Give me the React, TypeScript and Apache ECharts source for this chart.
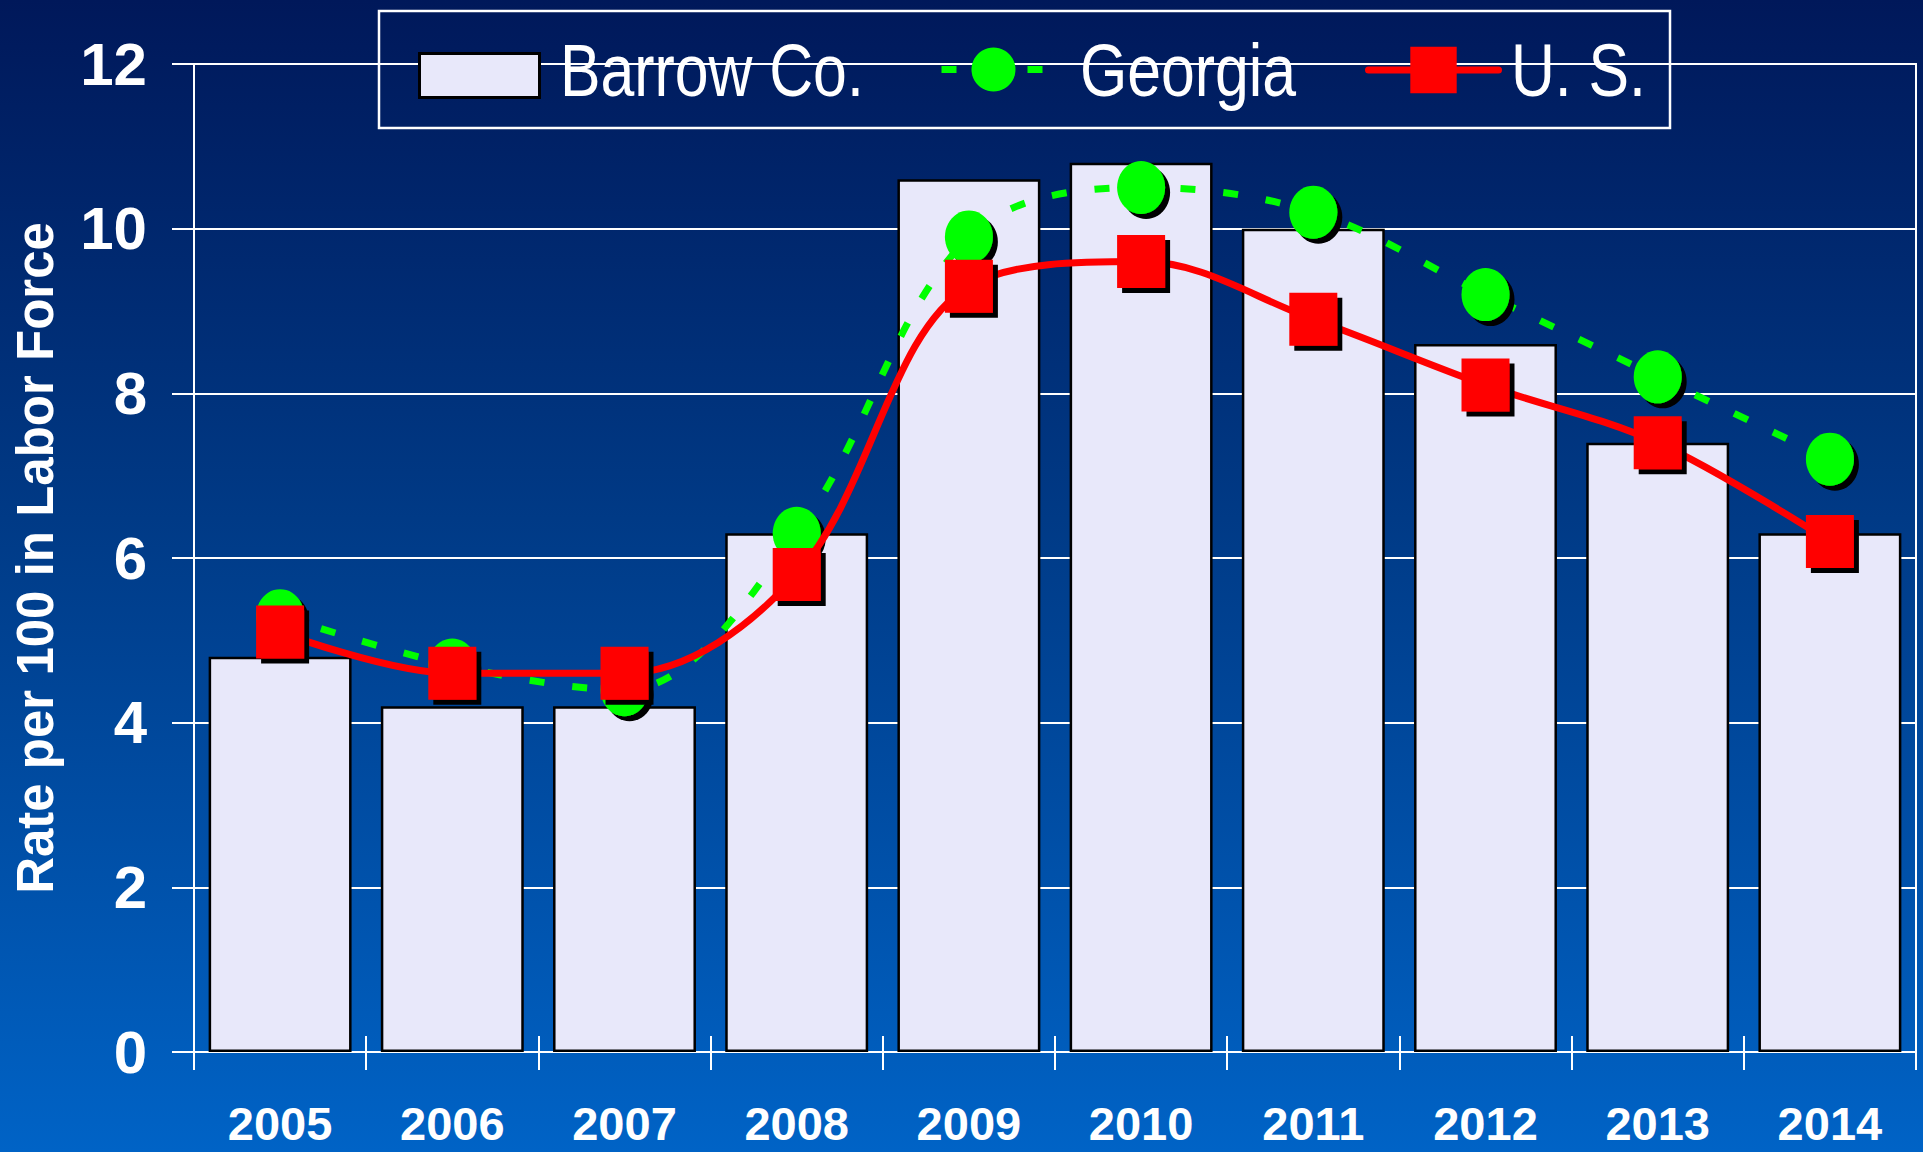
import React, { useEffect, useRef } from "react";
import * as echarts from "echarts";

const years = ["2005", "2006", "2007", "2008", "2009", "2010", "2011", "2012", "2013", "2014"];
const barrowCo = [4.8, 4.2, 4.2, 6.3, 10.6, 10.8, 10.0, 8.6, 7.4, 6.3];
const georgia = [5.3, 4.7, 4.4, 6.3, 9.9, 10.5, 10.2, 9.2, 8.2, 7.2];
const us = [5.1, 4.6, 4.6, 5.8, 9.3, 9.6, 8.9, 8.1, 7.4, 6.2];
const seriesNames = ["Barrow Co.", "Georgia", "U. S."];
const yMin = 0;
const yMax = 12;
const yStep = 2;
const yAxisTitle = "Rate per 100 in Labor Force";

const NUM_FONT = 'Arial, "Liberation Sans", sans-serif';

export default function App() {
  const ref = useRef<HTMLDivElement>(null);

  useEffect(() => {
    const chart = echarts.init(ref.current!, null, { renderer: "svg" });
    const hiddenText = { fontSize: 1, color: "transparent", padding: 0 };
    const legendLabel = (text: string, x: number) => ({
      type: "text",
      x,
      y: 70,
      scaleX: 0.81,
      z: 100,
      style: {
        text,
        fill: "#ffffff",
        fontSize: 75,
        fontFamily: NUM_FONT,
        textAlign: "left",
        textVerticalAlign: "middle",
      },
    });
    chart.setOption({
      animation: false,
      backgroundColor: "transparent",
      grid: {
        left: 194,
        top: 64,
        width: 1722,
        height: 988,
        show: true,
        borderColor: "#ffffff",
        borderWidth: 2,
        backgroundColor: "transparent",
      },
      graphic: [
        {
          type: "rect",
          shape: { x: 379, y: 11, width: 1291, height: 117 },
          style: { fill: "none", stroke: "#ffffff", lineWidth: 2.5 },
          z: 100,
        },
        legendLabel(seriesNames[0], 560),
        legendLabel(seriesNames[1], 1080),
        legendLabel(seriesNames[2], 1511),
      ],
      legend: [
        {
          data: [
            {
              name: seriesNames[0],
              icon: "rect",
              itemStyle: { color: "#e8e8fa", borderColor: "#000000", borderWidth: 3 },
            },
          ],
          left: 418,
          top: 52,
          padding: 0,
          itemWidth: 120,
          itemHeight: 44,
          selectedMode: false,
          formatter: () => "",
          textStyle: hiddenText,
        },
        {
          data: [seriesNames[1]],
          left: 938,
          top: 42,
          padding: 0,
          itemWidth: 104,
          itemHeight: 55,
          selectedMode: false,
          lineStyle: { width: 7 },
          formatter: () => "",
          textStyle: hiddenText,
        },
        {
          data: [seriesNames[2]],
          left: 1365,
          top: 41,
          padding: 0,
          itemWidth: 130,
          itemHeight: 58,
          selectedMode: false,
          lineStyle: { width: 7, cap: "round" },
          formatter: () => "",
          textStyle: hiddenText,
        },
      ],
      xAxis: [
        {
          type: "category",
          data: years,
          position: "bottom",
          boundaryGap: true,
          axisLine: { show: true, lineStyle: { color: "#ffffff", width: 2 } },
          axisTick: { show: true, inside: false, length: 18, interval: 0, lineStyle: { color: "#ffffff", width: 2 } },
          axisLabel: {
            color: "#ffffff",
            fontSize: 47,
            fontWeight: "bold",
            fontFamily: NUM_FONT,
            margin: 48,
            interval: 0,
          },
          splitLine: { show: false },
        },
        {
          type: "category",
          data: years,
          position: "bottom",
          boundaryGap: true,
          axisLine: { show: false },
          axisTick: { show: true, inside: true, length: 16, interval: 0, lineStyle: { color: "#ffffff", width: 2 } },
          axisLabel: { show: false },
          splitLine: { show: false },
        },
      ],
      yAxis: {
        type: "value",
        min: yMin,
        max: yMax,
        interval: yStep,
        name: yAxisTitle,
        nameLocation: "middle",
        nameRotate: 90,
        nameGap: 133,
        nameTextStyle: {
          color: "#ffffff",
          fontSize: 51,
          fontWeight: "bold",
          fontFamily: NUM_FONT,
        },
        axisLine: { show: true, lineStyle: { color: "#ffffff", width: 2 } },
        axisTick: { show: true, inside: false, length: 22, lineStyle: { color: "#ffffff", width: 2 } },
        axisLabel: {
          color: "#ffffff",
          fontSize: 60,
          fontWeight: "bold",
          fontFamily: NUM_FONT,
          margin: 47,
        },
        splitLine: { show: true, lineStyle: { color: "#ffffff", width: 2 } },
      },
      series: [
        {
          type: "bar",
          name: seriesNames[0],
          data: barrowCo,
          barCategoryGap: "17%",
          itemStyle: { color: "#e8e8fa", borderColor: "#000000", borderWidth: 2.5 },
          z: 2,
        },
        {
          type: "line",
          name: seriesNames[1],
          data: georgia,
          smooth: 0.35,
          symbol: "circle",
          symbolSize: [48, 53],
          itemStyle: {
            color: "#00ff00",
            borderWidth: 0,
            shadowColor: "#000000",
            shadowOffsetX: 5,
            shadowOffsetY: 5,
            shadowBlur: 0,
          },
          lineStyle: { color: "#00ff00", width: 7, type: [15, 28] },
          z: 3,
        },
        {
          type: "line",
          name: seriesNames[2],
          data: us,
          smooth: 0.35,
          symbol: "rect",
          symbolSize: [48, 53],
          itemStyle: {
            color: "#ff0000",
            borderWidth: 0,
            shadowColor: "#000000",
            shadowOffsetX: 5,
            shadowOffsetY: 5,
            shadowBlur: 0,
          },
          lineStyle: { color: "#ff0000", width: 7 },
          z: 4,
        },
      ],
    });
    return () => chart.dispose();
  }, []);

  return (
    <div
      ref={ref}
      style={{
        position: "fixed",
        left: 0,
        top: 0,
        width: 1923,
        height: 1152,
        background: "linear-gradient(to bottom, #00185a 0%, #003a86 45%, #0063c6 100%)",
      }}
    />
  );
}
